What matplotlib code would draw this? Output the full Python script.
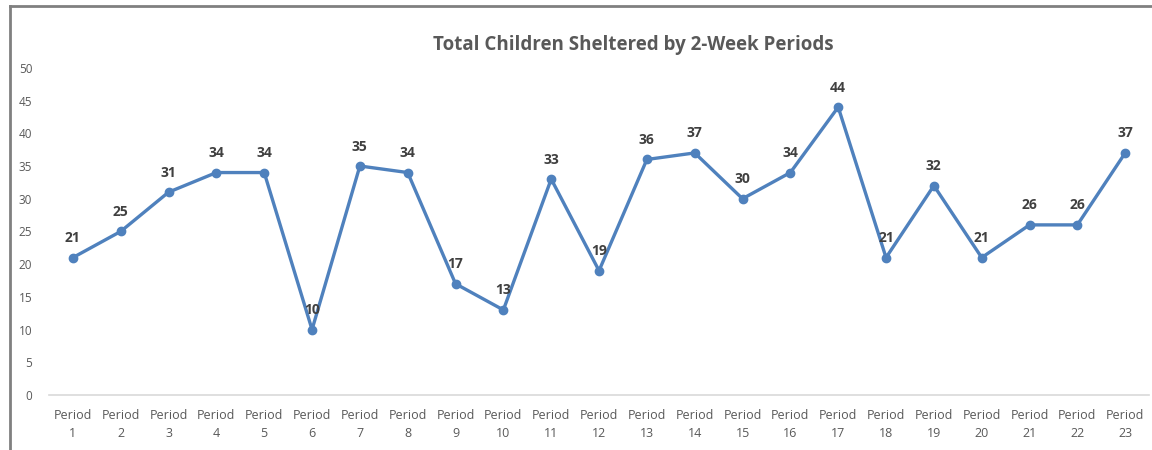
import matplotlib
matplotlib.use('Agg')
import matplotlib.pyplot as plt
from matplotlib.lines import Line2D

periods = ['Period\n%d' % i for i in range(1, 24)]
children = [21, 25, 31, 34, 34, 10, 35, 34, 17, 13, 33, 19, 36, 37, 30, 34,
            44, 21, 32, 21, 26, 26, 37]
yticks = [0, 5, 10, 15, 20, 25, 30, 35, 40, 45, 50]

TEXT = '#595959'
LINE = '#4F81BD'

plt.rcParams['font.family'] = ['Open Sans', 'DejaVu Sans']

fig = plt.figure(figsize=(11.52, 4.5), dpi=100)
ax = fig.add_axes([0.0425, 0.1222, 0.955, 0.727])

x = list(range(1, len(children) + 1))
ax.plot(x, children, color=LINE, lw=2.4, marker='o', ms=6, zorder=3)
for xi, v in zip(x, children):
    ax.annotate(str(v), (xi, v), xytext=(0, 9), textcoords='offset points',
                ha='center', va='bottom', fontsize=10, fontweight='bold',
                color='#404040')

ax.set_xlim(0.5, len(children) + 0.5)
ax.set_ylim(0, 50)
ax.set_xticks(x)
ax.set_xticklabels(periods, fontsize=9, color=TEXT, linespacing=1.5)
ax.set_yticks(yticks)
ax.set_yticklabels([str(t) for t in yticks], fontsize=8.5, color=TEXT)
ax.tick_params(axis='x', length=0, pad=10)
ax.tick_params(axis='y', length=0, pad=12)
for s in ['top', 'right', 'left']:
    ax.spines[s].set_visible(False)
ax.spines['bottom'].set_color('#D9D9D9')
ax.spines['bottom'].set_linewidth(1.2)

fig.text(0.55, 0.9, 'Total Children Sheltered by 2-Week Periods', ha='center',
         va='center', fontsize=13.5, fontweight='bold', color=TEXT)

# outer chart frame (top and left edges visible)
fig.add_artist(Line2D([0.009, 0.009], [0, 0.986], color='#808080', lw=2,
                      transform=fig.transFigure))
fig.add_artist(Line2D([0.009, 1.0], [0.986, 0.986], color='#808080', lw=2,
                      transform=fig.transFigure))

fig.savefig('out.png', dpi=100)
